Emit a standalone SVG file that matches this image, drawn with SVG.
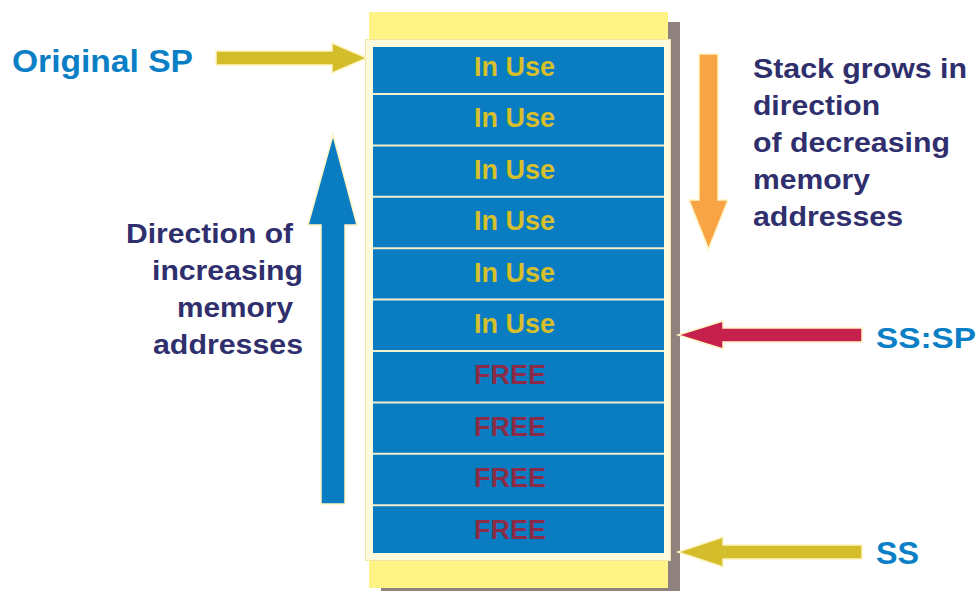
<svg xmlns="http://www.w3.org/2000/svg" width="980" height="591" viewBox="0 0 980 591">
  <style>
    .lbl { font-family: "Liberation Sans", Arial, sans-serif; font-weight: bold; }
    .navy { fill: #2f2f6e; font-size: 28px; }
    .blue { fill: #0a7fc6; }
    .use { fill: #d5bf2b; font-size: 27px; text-anchor: middle; }
    .free { fill: #8a2c47; font-size: 27px; text-anchor: middle; }
    .arrow { stroke: #fff4c2; stroke-width: 1.5; stroke-linejoin: miter; }
    .sep { stroke: #f4f0cc; stroke-width: 2; }
  </style>

  <rect width="980" height="591" fill="#ffffff"/>

  <!-- stack block -->
  <g id="stack">
    <rect x="381" y="22" width="299" height="576" fill="#8f817e"/>
    <rect x="369" y="12" width="299" height="28" fill="#fff385"/>
    <rect x="369" y="560" width="299" height="28" fill="#fff385"/>
    <rect x="365.5" y="39.5" width="305" height="521" fill="#fffadc" stroke="#eee5a6" stroke-width="1"/>
    <rect x="373" y="47" width="291" height="506" fill="#0a7dc2"/>
    <g class="sep">
      <line x1="373" y1="94" x2="664" y2="94"/>
      <line x1="373" y1="145.4" x2="664" y2="145.4"/>
      <line x1="373" y1="196.8" x2="664" y2="196.8"/>
      <line x1="373" y1="248.2" x2="664" y2="248.2"/>
      <line x1="373" y1="299.6" x2="664" y2="299.6"/>
      <line x1="373" y1="351" x2="664" y2="351"/>
      <line x1="373" y1="402.4" x2="664" y2="402.4"/>
      <line x1="373" y1="453.8" x2="664" y2="453.8"/>
      <line x1="373" y1="505.2" x2="664" y2="505.2"/>
    </g>
  </g>

  <g id="cells" class="lbl">
    <text class="use" x="514.5" y="76">In Use</text>
    <text class="use" x="514.5" y="127.4">In Use</text>
    <text class="use" x="514.5" y="178.8">In Use</text>
    <text class="use" x="514.5" y="230.2">In Use</text>
    <text class="use" x="514.5" y="281.6">In Use</text>
    <text class="use" x="514.5" y="333">In Use</text>
    <text class="free" x="510" y="384.4">FREE</text>
    <text class="free" x="510" y="435.8">FREE</text>
    <text class="free" x="510" y="487.2">FREE</text>
    <text class="free" x="510" y="538.6">FREE</text>
  </g>

  <!-- connectors / arrows -->
  <g id="connectors">
    <polygon class="arrow" fill="#d4bd2a" points="216,51 332,51 332,43 367,58 332,73 332,65 216,65"/>
    <polygon class="arrow" fill="#0a7dc2" points="321,504 321,225 308,225 333,135 357,225 345,225 345,504"/>
    <polygon class="arrow" fill="#f8a444" points="699,54 718,54 718,200 728,200 708.5,249 689,200 699,200"/>
    <polygon class="arrow" fill="#c6204d" points="862,328 723,328 723,321 678,335 723,349 723,342 862,342"/>
    <polygon class="arrow" fill="#d4bd2a" points="862,545 723,545 723,537 678,552 723,567 723,559 862,559"/>
  </g>

  <g id="label-original-sp" class="lbl">
    <text class="blue" x="12" y="72" font-size="31" textLength="181" lengthAdjust="spacingAndGlyphs">Original SP</text>
  </g>
  <g id="label-sssp" class="lbl">
    <text class="blue" x="876" y="348" font-size="30" textLength="100" lengthAdjust="spacingAndGlyphs">SS:SP</text>
  </g>
  <g id="label-ss" class="lbl">
    <text class="blue" x="876" y="564" font-size="31" textLength="43" lengthAdjust="spacingAndGlyphs">SS</text>
  </g>

  <g id="label-grows" class="lbl navy">
    <text x="753" y="78" textLength="214" lengthAdjust="spacingAndGlyphs">Stack grows in</text>
    <text x="753" y="115" textLength="127" lengthAdjust="spacingAndGlyphs">direction</text>
    <text x="753" y="152" textLength="197" lengthAdjust="spacingAndGlyphs">of decreasing</text>
    <text x="753" y="189" textLength="117" lengthAdjust="spacingAndGlyphs">memory</text>
    <text x="753" y="226" textLength="150" lengthAdjust="spacingAndGlyphs">addresses</text>
  </g>

  <g id="label-increasing" class="lbl navy">
    <text x="126" y="243" textLength="167" lengthAdjust="spacingAndGlyphs">Direction of</text>
    <text x="152" y="280" textLength="151" lengthAdjust="spacingAndGlyphs">increasing</text>
    <text x="177" y="317" textLength="116" lengthAdjust="spacingAndGlyphs">memory</text>
    <text x="153" y="354" textLength="150" lengthAdjust="spacingAndGlyphs">addresses</text>
  </g>
</svg>
